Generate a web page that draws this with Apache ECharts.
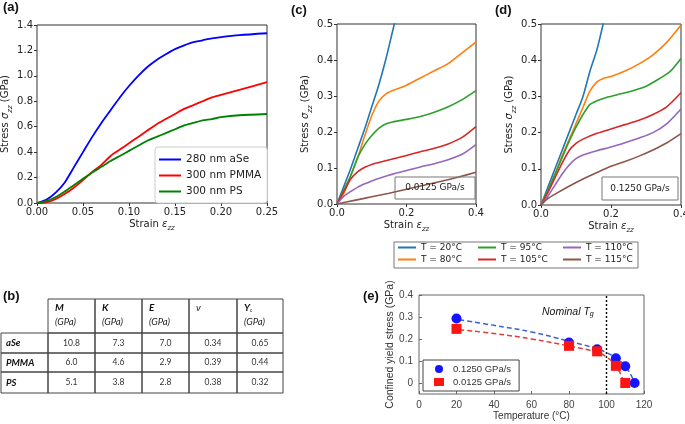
<!DOCTYPE html>
<html><head><meta charset="utf-8">
<script src="https://cdn.jsdelivr.net/npm/echarts/dist/echarts.min.js"></script>
<style>html,body{margin:0;padding:0;background:#fff}#c{width:685px;height:424px}</style>
</head><body><div id="c"></div><script>
// ---- Panel (a) data ----
const aStrain = [0,0.01,0.02,0.03,0.04,0.05,0.06,0.07,0.08,0.09,0.10,0.11,0.12,0.13,0.14,0.15,0.16,0.17,0.18,0.19,0.20,0.22,0.25];
const aSeStress = [0,0.025,0.08,0.16,0.28,0.40,0.52,0.63,0.73,0.83,0.92,1.00,1.07,1.125,1.17,1.21,1.24,1.265,1.28,1.295,1.305,1.32,1.335];
const pmmaStress = [0,0.005,0.03,0.07,0.12,0.18,0.245,0.30,0.37,0.42,0.47,0.52,0.57,0.62,0.66,0.70,0.74,0.77,0.80,0.83,0.85,0.89,0.95];
const psStress = [0,0.015,0.045,0.09,0.14,0.19,0.24,0.285,0.33,0.37,0.41,0.45,0.49,0.52,0.55,0.58,0.61,0.63,0.65,0.66,0.675,0.69,0.70];
const aNames = ['280 nm aSe','300 nm PMMA','300 nm PS'];
const aColors = ['#0000ff','#ff0000','#008000'];

// ---- Panel (c) data (0.0125 GPa/s) ----
const c20  = [[0,0],[0.02,0.05],[0.04,0.10],[0.06,0.155],[0.08,0.21],[0.10,0.27],[0.12,0.33],[0.14,0.40],[0.16,0.48],[0.17,0.52]];
const c80  = [[0,0],[0.02,0.03],[0.04,0.08],[0.06,0.13],[0.08,0.19],[0.10,0.245],[0.12,0.285],[0.14,0.305],[0.16,0.315],[0.18,0.322],[0.20,0.33],[0.24,0.35],[0.28,0.37],[0.32,0.39],[0.36,0.42],[0.40,0.45]];
const c95  = [[0,0],[0.02,0.04],[0.04,0.08],[0.06,0.13],[0.08,0.165],[0.10,0.19],[0.12,0.21],[0.14,0.222],[0.16,0.228],[0.20,0.235],[0.24,0.243],[0.28,0.255],[0.32,0.27],[0.36,0.29],[0.40,0.315]];
const c105 = [[0,0],[0.02,0.035],[0.04,0.07],[0.06,0.09],[0.08,0.102],[0.10,0.11],[0.12,0.115],[0.16,0.125],[0.20,0.135],[0.24,0.145],[0.28,0.155],[0.32,0.167],[0.36,0.185],[0.40,0.215]];
const c110 = [[0,0],[0.02,0.022],[0.04,0.035],[0.06,0.047],[0.08,0.056],[0.10,0.064],[0.12,0.071],[0.16,0.083],[0.20,0.093],[0.24,0.103],[0.28,0.112],[0.32,0.123],[0.36,0.138],[0.40,0.165]];
const c115 = [[0,0],[0.05,0.01],[0.10,0.02],[0.15,0.03],[0.20,0.041],[0.25,0.052],[0.30,0.063],[0.35,0.075],[0.40,0.088]];

// ---- Panel (d) data (0.1250 GPa/s) ----
const d20  = [[0,0],[0.02,0.05],[0.04,0.10],[0.06,0.15],[0.08,0.20],[0.10,0.25],[0.12,0.30],[0.14,0.37],[0.16,0.43],[0.18,0.51]];
const d80  = [[0,0],[0.02,0.04],[0.04,0.085],[0.06,0.135],[0.08,0.18],[0.10,0.225],[0.12,0.27],[0.14,0.315],[0.16,0.34],[0.18,0.35],[0.20,0.355],[0.24,0.37],[0.28,0.39],[0.32,0.415],[0.36,0.45],[0.40,0.497]];
const d95  = [[0,0],[0.02,0.04],[0.04,0.085],[0.06,0.13],[0.08,0.175],[0.10,0.215],[0.12,0.25],[0.14,0.278],[0.16,0.288],[0.18,0.295],[0.22,0.305],[0.26,0.315],[0.30,0.328],[0.34,0.35],[0.37,0.37],[0.40,0.405]];
const d105 = [[0,0],[0.02,0.035],[0.04,0.075],[0.06,0.115],[0.08,0.15],[0.10,0.17],[0.12,0.182],[0.16,0.198],[0.20,0.21],[0.24,0.222],[0.28,0.234],[0.32,0.25],[0.36,0.272],[0.40,0.31]];
const d110 = [[0,0],[0.02,0.025],[0.04,0.055],[0.06,0.085],[0.08,0.11],[0.10,0.128],[0.12,0.138],[0.16,0.15],[0.20,0.16],[0.24,0.172],[0.28,0.185],[0.32,0.20],[0.36,0.225],[0.40,0.265]];
const d115 = [[0,0],[0.02,0.018],[0.04,0.03],[0.08,0.052],[0.12,0.072],[0.16,0.09],[0.20,0.107],[0.24,0.12],[0.28,0.135],[0.32,0.152],[0.36,0.172],[0.40,0.197]];
const tNames = ['T = 20°C','T = 80°C','T = 95°C','T = 105°C','T = 110°C','T = 115°C'];
const tColors = ['#1f77b4','#ff7f0e','#2ca02c','#d62728','#9467bd','#8c564b'];

// ---- Panel (b) table ----
const tableHeaders = ['M','K','E','ν','Y'];
const tableMaterials = ['aSe','PMMA','PS'];
const rowASe  = ['10.8','7.3','7.0','0.34','0.65'];
const rowPMMA = ['6.0','4.6','2.9','0.39','0.44'];
const rowPS   = ['5.1','3.8','2.8','0.38','0.32'];

// ---- Panel (e) data ----
const tempFast = [20,80,95,105,110,115];
const yieldFast = [0.293,0.184,0.153,0.112,0.076,0.0];
const tempSlow = [20,80,95,105,110];
const yieldSlow = [0.246,0.169,0.144,0.078,0.0];
const fitFast = [[21.5,0.287],[40,0.262],[60,0.232],[80,0.190],[95,0.156],[100,0.138],[105,0.114],[110,0.078],[114,0.02]];
const fitSlow = [[21.5,0.242],[40,0.225],[60,0.200],[80,0.168],[95,0.140],[100,0.118],[105,0.080],[108.5,0.02]];
const eNames = ['0.1250 GPa/s','0.0125 GPa/s'];
const eYTicks = [0,0.1,0.2,0.3,0.4];
const nominalTg = 100;

const DJ = 'DejaVu Sans';
const LS = 'Liberation Sans';
const frame = '#333';
function nameRich(fs){
  return {fontSize:fs, fontFamily:DJ, color:'#222',
    rich:{s:{fontSize:fs, fontFamily:DJ, fontStyle:'italic', color:'#222'},
          sub:{fontSize:fs*0.7, fontFamily:DJ, fontStyle:'italic', color:'#222', verticalAlign:'bottom', padding:[0,0,-3,0]}}};
}
function mplX(gi, min, max, interval, dec){
  return {type:'value', gridIndex:gi, min, max, interval,
    name:'Strain {s|ε}{sub|zz}', nameLocation:'middle', nameGap:16, nameTextStyle:nameRich(10),
    axisLine:{show:false, onZero:false}, splitLine:{show:false},
    axisTick:{show:true, length:3, lineStyle:{color:frame}},
    axisLabel:{fontSize:10, fontFamily:DJ, color:'#222', margin:4, formatter:v=>v.toFixed(dec)}};
}
function mplY(gi, min, max, interval, dec){
  return {type:'value', gridIndex:gi, min, max, interval,
    name:'Stress {s|σ}{sub|zz} (GPa)', nameLocation:'middle', nameGap:23, nameTextStyle:nameRich(10),
    axisLine:{show:false, onZero:false}, splitLine:{show:false},
    axisTick:{show:true, length:3, lineStyle:{color:frame}},
    axisLabel:{fontSize:10, fontFamily:DJ, color:'#222', margin:4, formatter:v=>v.toFixed(dec)}};
}
const gridBase = {show:true, borderColor:frame, borderWidth:1, backgroundColor:'transparent', containLabel:false, outerBoundsMode:'none'};

const series = [];
const aData = [aSeStress, pmmaStress, psStress];
aData.forEach((arr,i)=>{
  series.push({type:'line', name:aNames[i], xAxisIndex:0, yAxisIndex:0,
    data:arr.map((v,j)=>[aStrain[j],v]), symbol:'none', smooth:0.25,
    lineStyle:{width:1.8, color:aColors[i]}, itemStyle:{color:aColors[i]}, z:3});
});
[c20,c80,c95,c105,c110,c115].forEach((arr,i)=>{
  series.push({type:'line', name:tNames[i], xAxisIndex:1, yAxisIndex:1, data:arr, symbol:'none',
    smooth:0.25, clip:true, lineStyle:{width:1.6, color:tColors[i]}, itemStyle:{color:tColors[i]}});
});
[d20,d80,d95,d105,d110,d115].forEach((arr,i)=>{
  series.push({type:'line', name:tNames[i], xAxisIndex:2, yAxisIndex:2, data:arr, symbol:'none',
    smooth:0.25, clip:true, lineStyle:{width:1.6, color:tColors[i]}, itemStyle:{color:tColors[i]}});
});
series.push({type:'line', name:'fitFast', xAxisIndex:3, yAxisIndex:3, data:fitFast, symbol:'none', smooth:0.4,
  lineStyle:{width:1.5, type:[5,3], color:'#3a62d8'}, z:2,
  markLine:{silent:true, symbol:'none', label:{show:false},
    lineStyle:{type:[2,2], color:'#000', width:1.4}, data:[{xAxis:nominalTg}]}});
series.push({type:'line', name:'fitSlow', xAxisIndex:3, yAxisIndex:3, data:fitSlow, symbol:'none', smooth:0.4,
  lineStyle:{width:1.5, type:[5,3], color:'#e23a3a'}, z:2});
series.push({type:'scatter', name:eNames[0], xAxisIndex:3, yAxisIndex:3, symbol:'circle', symbolSize:10,
  data:tempFast.map((t,i)=>[t,yieldFast[i]]), itemStyle:{color:'#1414ff', opacity:1}, z:4});
series.push({type:'scatter', name:eNames[1], xAxisIndex:3, yAxisIndex:3, symbol:'rect', symbolSize:10,
  data:tempSlow.map((t,i)=>[t,yieldSlow[i]]), itemStyle:{color:'#ff1414', opacity:1}, z:4});

// graphic: table
const g = [];
const colX = [48,95,142,189,237,283];
const rowY = [299,333,353,372,393];
const tc = '#444';
for (let c=0;c<5;c++){
  g.push({type:'rect', shape:{x:colX[c], y:rowY[0], width:colX[c+1]-colX[c], height:rowY[1]-rowY[0]}, style:{fill:'none', stroke:tc, lineWidth:1}});
  g.push({type:'text', x:colX[c]+7, y:303, style:{
    text: c===4 ? '{b|Y}{sb|c}' : (c===3 ? '{i|'+tableHeaders[c]+'}' : '{b|'+tableHeaders[c]+'}'),
    rich:{b:{fontFamily:'Lato', fontSize:10, fontWeight:'bold', fontStyle:'italic', fill:'#111'},
          i:{fontFamily:'Lato', fontSize:10, fontStyle:'italic', fill:'#111'},
          sb:{fontFamily:'Lato', fontSize:5, fontStyle:'italic', fill:'#111', verticalAlign:'bottom'}}}});
  if (c!==3) g.push({type:'text', x:colX[c]+7, y:317, style:{text:'(GPa)', fontFamily:'Lato', fontSize:9.5, fontStyle:'italic', fill:'#222'}});
}
const tRows = [rowASe,rowPMMA,rowPS];
for (let r=0;r<3;r++){
  g.push({type:'rect', shape:{x:1, y:rowY[r+1], width:colX[0]-1, height:rowY[r+2]-rowY[r+1]}, style:{fill:'none', stroke:tc, lineWidth:1}});
  g.push({type:'text', x:6, y:(rowY[r+1]+rowY[r+2])/2, style:{text:tableMaterials[r], fontFamily:'Lato', fontSize:9.5, fontWeight:'bold', fontStyle:'italic', fill:'#111', verticalAlign:'middle'}});
  for (let c=0;c<5;c++){
    g.push({type:'rect', shape:{x:colX[c], y:rowY[r+1], width:colX[c+1]-colX[c], height:rowY[r+2]-rowY[r+1]}, style:{fill:'none', stroke:tc, lineWidth:1}});
    g.push({type:'text', x:(colX[c]+colX[c+1])/2, y:(rowY[r+1]+rowY[r+2])/2, style:{text:tRows[r][c], fontFamily:'Lato', fontSize:8.5, fill:'#333', align:'center', verticalAlign:'middle'}});
  }
}
// panel labels
[['(a)',3,1],['(c)',291,4],['(d)',495,4],['(b)',3,290],['(e)',363,290]].forEach(p=>{
  g.push({type:'text', x:p[1], y:p[2], style:{text:p[0], fontFamily:LS, fontSize:13, fontWeight:'bold', fill:'#111'}});
});
// rate boxes in c and d
g.push({type:'rect', shape:{x:395, y:177, width:80, height:22}, style:{fill:'none', stroke:'#777', lineWidth:1}, z:10});
g.push({type:'text', x:435, y:188, style:{text:'0.0125 GPa/s', fontFamily:DJ, fontSize:9, fill:'#222', align:'center', verticalAlign:'middle'}, z:10});
g.push({type:'rect', shape:{x:602, y:177, width:76, height:23}, style:{fill:'none', stroke:'#777', lineWidth:1}, z:10});
g.push({type:'text', x:640, y:188.5, style:{text:'0.1250 GPa/s', fontFamily:DJ, fontSize:9, fill:'#222', align:'center', verticalAlign:'middle'}, z:10});
// c/d legend frame
g.push({type:'rect', shape:{x:394, y:242, width:244, height:26}, style:{fill:'#fff', stroke:'#777', lineWidth:1}, z:-1});
// Nominal Tg
g.push({type:'text', x:542, y:312, style:{text:'{i|Nominal T}{s|g}', verticalAlign:'middle',
  rich:{i:{fontFamily:LS, fontSize:10.5, fontStyle:'italic', fill:'#111'}, s:{fontFamily:LS, fontSize:7, fontStyle:'italic', fill:'#111', verticalAlign:'bottom'}}}, z:10});

const cdLegend = (names, left) => ({orient:'vertical', left, top:243, padding:0, itemGap:3, itemWidth:18, itemHeight:10,
  data:names, itemStyle:{opacity:0}, textStyle:{fontFamily:DJ, fontSize:9, color:'#222'}, selectedMode:false});

const option = {
  animation:false,
  backgroundColor:'#fff',
  grid:[
    Object.assign({left:37, top:25, width:230, height:178}, gridBase),
    Object.assign({left:337, top:24, width:139, height:180}, gridBase),
    Object.assign({left:541, top:24, width:140, height:181}, gridBase),
    Object.assign({left:419, top:295, width:225, height:99}, gridBase, {borderColor:'#666'})
  ],
  xAxis:[
    mplX(0,0,0.25,0.05,2), mplX(1,0,0.4,0.2,1), mplX(2,0,0.4,0.2,1),
    {type:'value', gridIndex:3, min:0, max:120, interval:20, name:'Temperature (°C)', nameLocation:'middle', nameGap:15,
     nameTextStyle:{fontFamily:LS, fontSize:10, color:'#333'}, axisLine:{show:false, onZero:false}, splitLine:{show:false},
     axisTick:{show:true, inside:true, length:3, lineStyle:{color:'#666'}},
     axisLabel:{fontFamily:LS, fontSize:10, color:'#444', margin:6}}
  ],
  yAxis:[
    mplY(0,0,1.4,0.2,1), mplY(1,0,0.5,0.1,1), mplY(2,0,0.5,0.1,1),
    {type:'value', gridIndex:3, min:-0.05, max:0.4, name:'Confined yield stress (GPa)', nameLocation:'middle', nameGap:21,
     nameTextStyle:{fontFamily:LS, fontSize:10.5, color:'#333'}, axisLine:{show:false, onZero:false}, splitLine:{show:false},
     axisTick:{show:true, inside:true, length:3, lineStyle:{color:'#666'}, customValues:eYTicks},
     axisLabel:{fontFamily:LS, fontSize:10, color:'#444', margin:6, customValues:eYTicks, formatter:v=> v===0?'0':v.toFixed(1)}}
  ],
  legend:[
    {orient:'vertical', left:155, top:147, padding:[7,6,6,3], itemGap:5, itemWidth:22, itemHeight:10,
     data:aNames, itemStyle:{opacity:0}, backgroundColor:'#fff', borderColor:'#ccc', borderWidth:1, borderRadius:3,
     textStyle:{fontFamily:DJ, fontSize:10.5, color:'#222'}, selectedMode:false},
    cdLegend([tNames[0],tNames[1]],397),
    cdLegend([tNames[2],tNames[3]],477),
    cdLegend([tNames[4],tNames[5]],562),
    {orient:'vertical', left:423, top:360, padding:[4,8,4,11], itemGap:3, itemWidth:10, itemHeight:8,
     data:eNames, backgroundColor:'#fff', borderColor:'#444', borderWidth:1, borderRadius:0,
     textStyle:{fontFamily:LS, fontSize:9.5, color:'#333', padding:[0,0,0,4]}, selectedMode:false}
  ],
  graphic:g,
  series
};
const chart = echarts.init(document.getElementById('c'), null, {renderer:'canvas'});
chart.setOption(option);
</script></body></html>
